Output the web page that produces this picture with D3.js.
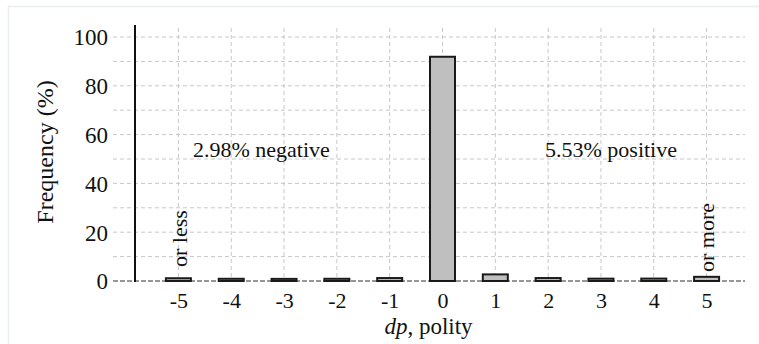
<!DOCTYPE html>
<html><head><meta charset="utf-8">
<script src="https://cdn.jsdelivr.net/npm/d3@7"></script>
<style>body{margin:0;background:#fff}svg{display:block}svg text{font-family:"Liberation Serif","Times New Roman",Tinos,Times,"DejaVu Serif","Noto Serif",serif !important;fill:#111}</style>
</head><body><svg id="c" width="759" height="344"></svg>
<script>
const categories = [-5,-4,-3,-2,-1,0,1,2,3,4,5];
const values = [0.72,0.5,0.46,0.5,0.8,91.49,2.3,0.8,0.55,0.58,1.3];
const yTicks = [0,20,40,60,80,100];
const yGrid = [10,20,30,40,50,60,70,80,90,100];
const notes = {neg:"2.98% negative", pos:"5.53% positive"};

const svg = d3.select("#c");
svg.append("path").attr("d","M8.5,344V6.5H759").attr("fill","none").attr("stroke","#e8f0ed").attr("stroke-width",1.5);

const x = d3.scalePoint().domain(categories).range([152,733]).padding(0.5);
const y = d3.scaleLinear().domain([0,100]).range([281,37]);
const bw = 25;

svg.append("g").selectAll("line").data(yGrid).join("line")
  .attr("x1",113).attr("x2",745).attr("y1",d=>y(d)).attr("y2",d=>y(d))
  .attr("stroke","#c8c8c8").attr("stroke-width",1).attr("stroke-dasharray","4,3");
svg.append("g").selectAll("line").data(categories).join("line")
  .attr("x1",d=>x(d)).attr("x2",d=>x(d)).attr("y1",28).attr("y2",281)
  .attr("stroke","#c8c8c8").attr("stroke-width",1).attr("stroke-dasharray","4,3");
svg.append("line").attr("x1",113).attr("x2",745).attr("y1",y(0)).attr("y2",y(0))
  .attr("stroke","#777").attr("stroke-width",1.5).attr("stroke-dasharray","5,2");

svg.append("g").selectAll("rect").data(categories).join("rect")
  .attr("x",d=>x(d)-bw/2).attr("width",bw)
  .attr("y",(d,i)=>y(values[i])-1).attr("height",(d,i)=>y(0)-y(values[i])+1)
  .attr("fill","#bfbfbf").attr("stroke","#1a1a1a").attr("stroke-width",2);

const yAxis = d3.axisLeft(y).tickValues(yTicks).tickSize(0).tickPadding(27);
const gy = svg.append("g").attr("transform","translate(135,0)").call(yAxis).attr("font-family",null).attr("font-size",null);
gy.select(".domain").remove();
gy.selectAll("text").attr("font-size",23).attr("fill","#111").attr("dy","0.34em");
svg.append("line").attr("x1",135).attr("x2",135).attr("y1",25).attr("y2",282).attr("stroke","#111").attr("stroke-width",2);

const xAxis = d3.axisBottom(x).tickSize(0).tickPadding(0);
const gx = svg.append("g").attr("transform","translate(0,281)").call(xAxis).attr("font-family",null).attr("font-size",null);
gx.select(".domain").remove();
gx.selectAll("text").attr("font-size",22).attr("fill","#111").attr("dy",0).attr("y",27);

svg.append("text").attr("transform","translate(53,152) rotate(-90)").attr("text-anchor","middle")
  .attr("font-size",24).text("Frequency (%)");
const xt = svg.append("text").attr("x",x(0)-14).attr("y",334).attr("text-anchor","middle").attr("font-size",23);
xt.append("tspan").attr("font-style","italic").text("dp");
xt.append("tspan").text(", polity");

svg.append("text").attr("x",193).attr("y",157).attr("font-size",22).text(notes.neg);
svg.append("text").attr("x",545).attr("y",157).attr("font-size",22).text(notes.pos);
svg.append("text").attr("transform",`translate(${x(-5)+9},267) rotate(-90)`).attr("font-size",22).text("or less");
svg.append("text").attr("transform",`translate(${x(5)+7},272) rotate(-90)`).attr("font-size",22).text("or more");
</script></body></html>
